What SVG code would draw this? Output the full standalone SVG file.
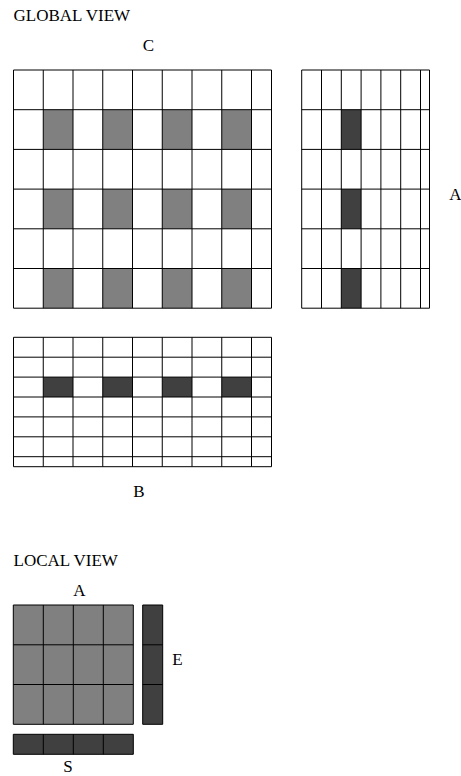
<svg xmlns="http://www.w3.org/2000/svg" width="461" height="776" viewBox="0 0 461 776">
<style>
text{font-family:"Liberation Serif","Times New Roman",serif;font-size:17px;fill:#000}
.g{fill:#808080}
.d{fill:#404040}
.ln{stroke:#000;stroke-width:1;fill:none}
</style>
<rect width="461" height="776" fill="#fff"/>
<text x="13.5" y="20.5">GLOBAL VIEW</text>
<g id="C">
<text x="148.5" y="50.5" text-anchor="middle">C</text>
<g class="g">
<rect x="43.25" y="109.7" width="29.75" height="39.7"/><rect x="102.75" y="109.7" width="29.75" height="39.7"/><rect x="162.25" y="109.7" width="29.75" height="39.7"/><rect x="221.75" y="109.7" width="29.75" height="39.7"/>
<rect x="43.25" y="189.1" width="29.75" height="39.7"/><rect x="102.75" y="189.1" width="29.75" height="39.7"/><rect x="162.25" y="189.1" width="29.75" height="39.7"/><rect x="221.75" y="189.1" width="29.75" height="39.7"/>
<rect x="43.25" y="268.5" width="29.75" height="39.7"/><rect x="102.75" y="268.5" width="29.75" height="39.7"/><rect x="162.25" y="268.5" width="29.75" height="39.7"/><rect x="221.75" y="268.5" width="29.75" height="39.7"/>
</g>
<path class="ln" d="M13.5 70V308.2M43.25 70V308.2M73 70V308.2M102.75 70V308.2M132.5 70V308.2M162.25 70V308.2M192 70V308.2M221.75 70V308.2M251.5 70V308.2M271.5 70V308.2M13.5 70H271.5M13.5 109.7H271.5M13.5 149.4H271.5M13.5 189.1H271.5M13.5 228.8H271.5M13.5 268.5H271.5M13.5 308.2H271.5"/>
</g>
<g id="A-global">
<text x="455.5" y="200" text-anchor="middle">A</text>
<g class="d">
<rect x="341.3" y="109.7" width="19.8" height="39.7"/><rect x="341.3" y="189.1" width="19.8" height="39.7"/><rect x="341.3" y="268.5" width="19.8" height="39.7"/>
</g>
<path class="ln" d="M301.7 70V308.2M321.5 70V308.2M341.3 70V308.2M361.1 70V308.2M380.9 70V308.2M400.7 70V308.2M420.5 70V308.2M429.5 70V308.2M301.7 70H429.5M301.7 109.7H429.5M301.7 149.4H429.5M301.7 189.1H429.5M301.7 228.8H429.5M301.7 268.5H429.5M301.7 308.2H429.5"/>
</g>
<g id="B">
<text x="139" y="496.5" text-anchor="middle">B</text>
<g class="d">
<rect x="43.25" y="377.1" width="29.75" height="19.9"/><rect x="102.75" y="377.1" width="29.75" height="19.9"/><rect x="162.25" y="377.1" width="29.75" height="19.9"/><rect x="221.75" y="377.1" width="29.75" height="19.9"/>
</g>
<path class="ln" d="M13.5 337.3V466.7M43.25 337.3V466.7M73 337.3V466.7M102.75 337.3V466.7M132.5 337.3V466.7M162.25 337.3V466.7M192 337.3V466.7M221.75 337.3V466.7M251.5 337.3V466.7M271.5 337.3V466.7M13.5 337.3H271.5M13.5 357.2H271.5M13.5 377.1H271.5M13.5 397H271.5M13.5 416.9H271.5M13.5 436.8H271.5M13.5 456.7H271.5M13.5 466.7H271.5"/>
</g>
<text x="13.5" y="565.5">LOCAL VIEW</text>
<g id="A-local">
<text x="79.5" y="595.5" text-anchor="middle">A</text>
<rect class="g" x="13.3" y="605" width="120" height="119.3"/>
<path class="ln" d="M13.3 605V724.3M43.3 605V724.3M73.3 605V724.3M103.3 605V724.3M133.3 605V724.3M13.3 605H133.3M13.3 644.8H133.3M13.3 684.5H133.3M13.3 724.3H133.3"/>
</g>
<g id="E">
<text x="172.3" y="665">E</text>
<rect class="d" x="142.7" y="605" width="20" height="119.3"/>
<path class="ln" d="M142.7 605V724.3M162.7 605V724.3M142.7 605H162.7M142.7 644.8H162.7M142.7 684.5H162.7M142.7 724.3H162.7"/>
</g>
<g id="S">
<text x="68" y="771.5" text-anchor="middle">S</text>
<rect class="d" x="13.3" y="734.3" width="120" height="20"/>
<path class="ln" d="M13.3 734.3V754.3M43.3 734.3V754.3M73.3 734.3V754.3M103.3 734.3V754.3M133.3 734.3V754.3M13.3 734.3H133.3M13.3 754.3H133.3"/>
</g>
<g id="connectors"/>
</svg>
